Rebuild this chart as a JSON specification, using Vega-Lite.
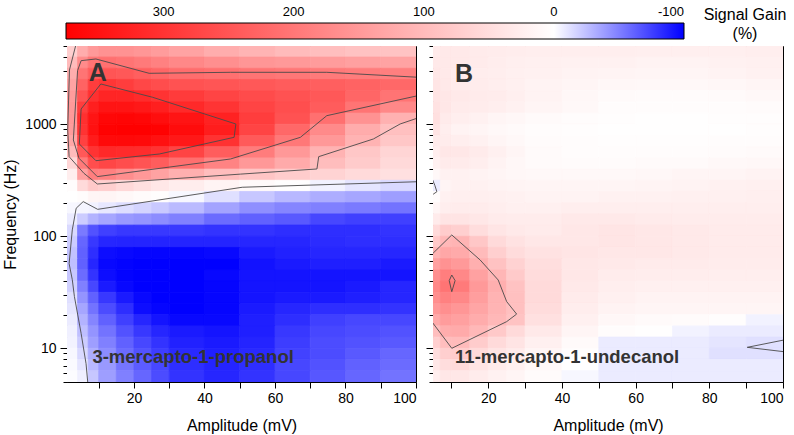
{
"$schema": "https://vega.github.io/schema/vega-lite/v6.json",
"autosize": {"type": "none"},
"padding": {"left": 67, "top": 46, "right": 727, "bottom": 389},
"background": "white",
"bounds": "flush",
"spacing": 17,
"config": {
  "font": "Liberation Sans",
  "view": {"stroke": "black", "strokeWidth": 1},
  "axis": {"labelFont": "Liberation Sans", "titleFont": "Liberation Sans", "labelFontSize": 14, "titleFontSize": 16, "titleFontWeight": "normal", "labelColor": "black", "titleColor": "black", "domainColor": "black", "tickColor": "black", "grid": false, "labelOverlap": false},
  "legend": {"labelFont": "Liberation Sans", "titleFont": "Liberation Sans", "labelFontSize": 13, "titleFontSize": 16, "titleFontWeight": "normal", "titleColor": "black", "labelColor": "black", "titleLineHeight": 19, "titleLimit": 300}
},
"datasets": {
  "cols": [{"c":0,"x":1,"x2":4},{"c":1,"x":4,"x2":7},{"c":2,"x":7,"x2":10},{"c":3,"x":10,"x2":15},{"c":4,"x":15,"x2":20},{"c":5,"x":20,"x2":25},{"c":6,"x":25,"x2":30},{"c":7,"x":30,"x2":40},{"c":8,"x":40,"x2":50},{"c":9,"x":50,"x2":60},{"c":10,"x":60,"x2":70},{"c":11,"x":70,"x2":80},{"c":12,"x":80,"x2":90},{"c":13,"x":90,"x2":100}],
  "rows": [{"r":0,"y":5,"y2":6.31},{"r":1,"y":6.31,"y2":7.943},{"r":2,"y":7.943,"y2":10},{"r":3,"y":10,"y2":12.59},{"r":4,"y":12.59,"y2":15.85},{"r":5,"y":15.85,"y2":19.95},{"r":6,"y":19.95,"y2":25.12},{"r":7,"y":25.12,"y2":31.62},{"r":8,"y":31.62,"y2":39.81},{"r":9,"y":39.81,"y2":50.12},{"r":10,"y":50.12,"y2":63.1},{"r":11,"y":63.1,"y2":79.43},{"r":12,"y":79.43,"y2":100},{"r":13,"y":100,"y2":125.9},{"r":14,"y":125.9,"y2":158.5},{"r":15,"y":158.5,"y2":199.5},{"r":16,"y":199.5,"y2":251.2},{"r":17,"y":251.2,"y2":316.2},{"r":18,"y":316.2,"y2":398.1},{"r":19,"y":398.1,"y2":501.2},{"r":20,"y":501.2,"y2":631},{"r":21,"y":631,"y2":794.3},{"r":22,"y":794.3,"y2":1000},{"r":23,"y":1000,"y2":1259},{"r":24,"y":1259,"y2":1585},{"r":25,"y":1585,"y2":1995},{"r":26,"y":1995,"y2":2512},{"r":27,"y":2512,"y2":3162},{"r":28,"y":3162,"y2":3981},{"r":29,"y":3981,"y2":5000}],
  "notes": [{"p":"A","t":"A","x":7.2,"y":2449},{"p":"B","t":"B","x":11.0,"y":2400}],
  "names": [{"p":"A","t":"3-mercapto-1-propanol","x":8.2,"y":7.35},{"p":"B","t":"11-mercapto-1-undecanol","x":11.0,"y":7.35}],
  "cellsA": [
{"c":0,"r":29,"v":70},{"c":1,"r":29,"v":120},{"c":2,"r":29,"v":150},{"c":3,"r":29,"v":160},{"c":4,"r":29,"v":160},{"c":5,"r":29,"v":155},{"c":6,"r":29,"v":145},{"c":7,"r":29,"v":135},{"c":8,"r":29,"v":120},{"c":9,"r":29,"v":110},{"c":10,"r":29,"v":100},{"c":11,"r":29,"v":95},{"c":12,"r":29,"v":90},{"c":13,"r":29,"v":88},
{"c":0,"r":28,"v":100},{"c":1,"r":28,"v":170},{"c":2,"r":28,"v":205},{"c":3,"r":28,"v":210},{"c":4,"r":28,"v":205},{"c":5,"r":28,"v":195},{"c":6,"r":28,"v":185},{"c":7,"r":28,"v":175},{"c":8,"r":28,"v":165},{"c":9,"r":28,"v":155},{"c":10,"r":28,"v":150},{"c":11,"r":28,"v":145},{"c":12,"r":28,"v":140},{"c":13,"r":28,"v":135},
{"c":0,"r":27,"v":120},{"c":1,"r":27,"v":205},{"c":2,"r":27,"v":240},{"c":3,"r":27,"v":250},{"c":4,"r":27,"v":245},{"c":5,"r":27,"v":235},{"c":6,"r":27,"v":225},{"c":7,"r":27,"v":215},{"c":8,"r":27,"v":210},{"c":9,"r":27,"v":205},{"c":10,"r":27,"v":200},{"c":11,"r":27,"v":196},{"c":12,"r":27,"v":192},{"c":13,"r":27,"v":188},
{"c":0,"r":26,"v":135},{"c":1,"r":26,"v":230},{"c":2,"r":26,"v":285},{"c":3,"r":26,"v":295},{"c":4,"r":26,"v":285},{"c":5,"r":26,"v":270},{"c":6,"r":26,"v":262},{"c":7,"r":26,"v":255},{"c":8,"r":26,"v":250},{"c":9,"r":26,"v":245},{"c":10,"r":26,"v":240},{"c":11,"r":26,"v":235},{"c":12,"r":26,"v":230},{"c":13,"r":26,"v":222},
{"c":0,"r":25,"v":145},{"c":1,"r":25,"v":255},{"c":2,"r":25,"v":305},{"c":3,"r":25,"v":320},{"c":4,"r":25,"v":320},{"c":5,"r":25,"v":312},{"c":6,"r":25,"v":300},{"c":7,"r":25,"v":288},{"c":8,"r":25,"v":275},{"c":9,"r":25,"v":265},{"c":10,"r":25,"v":255},{"c":11,"r":25,"v":245},{"c":12,"r":25,"v":225},{"c":13,"r":25,"v":205},
{"c":0,"r":24,"v":150},{"c":1,"r":24,"v":285},{"c":2,"r":24,"v":330},{"c":3,"r":24,"v":345},{"c":4,"r":24,"v":345},{"c":5,"r":24,"v":340},{"c":6,"r":24,"v":330},{"c":7,"r":24,"v":315},{"c":8,"r":24,"v":298},{"c":9,"r":24,"v":275},{"c":10,"r":24,"v":260},{"c":11,"r":24,"v":240},{"c":12,"r":24,"v":205},{"c":13,"r":24,"v":175},
{"c":0,"r":23,"v":150},{"c":1,"r":23,"v":305},{"c":2,"r":23,"v":345},{"c":3,"r":23,"v":365},{"c":4,"r":23,"v":368},{"c":5,"r":23,"v":365},{"c":6,"r":23,"v":355},{"c":7,"r":23,"v":345},{"c":8,"r":23,"v":325},{"c":9,"r":23,"v":285},{"c":10,"r":23,"v":255},{"c":11,"r":23,"v":210},{"c":12,"r":23,"v":160},{"c":13,"r":23,"v":115},
{"c":0,"r":22,"v":145},{"c":1,"r":22,"v":300},{"c":2,"r":22,"v":350},{"c":3,"r":22,"v":372},{"c":4,"r":22,"v":375},{"c":5,"r":22,"v":375},{"c":6,"r":22,"v":372},{"c":7,"r":22,"v":358},{"c":8,"r":22,"v":332},{"c":9,"r":22,"v":275},{"c":10,"r":22,"v":222},{"c":11,"r":22,"v":172},{"c":12,"r":22,"v":122},{"c":13,"r":22,"v":92},
{"c":0,"r":21,"v":130},{"c":1,"r":21,"v":280},{"c":2,"r":21,"v":335},{"c":3,"r":21,"v":360},{"c":4,"r":21,"v":362},{"c":5,"r":21,"v":360},{"c":6,"r":21,"v":350},{"c":7,"r":21,"v":340},{"c":8,"r":21,"v":302},{"c":9,"r":21,"v":242},{"c":10,"r":21,"v":198},{"c":11,"r":21,"v":152},{"c":12,"r":21,"v":112},{"c":13,"r":21,"v":82},
{"c":0,"r":20,"v":100},{"c":1,"r":20,"v":245},{"c":2,"r":20,"v":300},{"c":3,"r":20,"v":315},{"c":4,"r":20,"v":312},{"c":5,"r":20,"v":310},{"c":6,"r":20,"v":300},{"c":7,"r":20,"v":275},{"c":8,"r":20,"v":238},{"c":9,"r":20,"v":192},{"c":10,"r":20,"v":152},{"c":11,"r":20,"v":112},{"c":12,"r":20,"v":82},{"c":13,"r":20,"v":62},
{"c":0,"r":19,"v":60},{"c":1,"r":19,"v":195},{"c":2,"r":19,"v":260},{"c":3,"r":19,"v":272},{"c":4,"r":19,"v":262},{"c":5,"r":19,"v":252},{"c":6,"r":19,"v":238},{"c":7,"r":19,"v":212},{"c":8,"r":19,"v":182},{"c":9,"r":19,"v":152},{"c":10,"r":19,"v":125},{"c":11,"r":19,"v":97},{"c":12,"r":19,"v":76},{"c":13,"r":19,"v":56},
{"c":0,"r":18,"v":25},{"c":1,"r":18,"v":140},{"c":2,"r":18,"v":190},{"c":3,"r":18,"v":185},{"c":4,"r":18,"v":168},{"c":5,"r":18,"v":152},{"c":6,"r":18,"v":137},{"c":7,"r":18,"v":117},{"c":8,"r":18,"v":97},{"c":9,"r":18,"v":85},{"c":10,"r":18,"v":75},{"c":11,"r":18,"v":65},{"c":12,"r":18,"v":55},{"c":13,"r":18,"v":45},
{"c":0,"r":17,"v":5},{"c":1,"r":17,"v":55},{"c":2,"r":17,"v":80},{"c":3,"r":17,"v":70},{"c":4,"r":17,"v":56},{"c":5,"r":17,"v":46},{"c":6,"r":17,"v":36},{"c":7,"r":17,"v":26},{"c":8,"r":17,"v":16},{"c":9,"r":17,"v":8},{"c":10,"r":17,"v":2},{"c":11,"r":17,"v":-5},{"c":12,"r":17,"v":-10},{"c":13,"r":17,"v":-15},
{"c":0,"r":16,"v":0},{"c":1,"r":16,"v":5},{"c":2,"r":16,"v":14},{"c":3,"r":16,"v":14},{"c":4,"r":16,"v":10},{"c":5,"r":16,"v":6},{"c":6,"r":16,"v":3},{"c":7,"r":16,"v":-3},{"c":8,"r":16,"v":-12},{"c":9,"r":16,"v":-22},{"c":10,"r":16,"v":-28},{"c":11,"r":16,"v":-32},{"c":12,"r":16,"v":-35},{"c":13,"r":16,"v":-38},
{"c":0,"r":15,"v":-3},{"c":1,"r":15,"v":-4},{"c":2,"r":15,"v":-5},{"c":3,"r":15,"v":-9},{"c":4,"r":15,"v":-13},{"c":5,"r":15,"v":-17},{"c":6,"r":15,"v":-21},{"c":7,"r":15,"v":-27},{"c":8,"r":15,"v":-36},{"c":9,"r":15,"v":-44},{"c":10,"r":15,"v":-48},{"c":11,"r":15,"v":-50},{"c":12,"r":15,"v":-52},{"c":13,"r":15,"v":-55},
{"c":0,"r":14,"v":-8},{"c":1,"r":14,"v":-20},{"c":2,"r":14,"v":-30},{"c":3,"r":14,"v":-35},{"c":4,"r":14,"v":-40},{"c":5,"r":14,"v":-42},{"c":6,"r":14,"v":-45},{"c":7,"r":14,"v":-50},{"c":8,"r":14,"v":-58},{"c":9,"r":14,"v":-62},{"c":10,"r":14,"v":-65},{"c":11,"r":14,"v":-72},{"c":12,"r":14,"v":-75},{"c":13,"r":14,"v":-75},
{"c":0,"r":13,"v":-15},{"c":1,"r":13,"v":-52},{"c":2,"r":13,"v":-68},{"c":3,"r":13,"v":-75},{"c":4,"r":13,"v":-78},{"c":5,"r":13,"v":-78},{"c":6,"r":13,"v":-78},{"c":7,"r":13,"v":-78},{"c":8,"r":13,"v":-80},{"c":9,"r":13,"v":-80},{"c":10,"r":13,"v":-82},{"c":11,"r":13,"v":-82},{"c":12,"r":13,"v":-82},{"c":13,"r":13,"v":-80},
{"c":0,"r":12,"v":-20},{"c":1,"r":12,"v":-60},{"c":2,"r":12,"v":-78},{"c":3,"r":12,"v":-85},{"c":4,"r":12,"v":-86},{"c":5,"r":12,"v":-86},{"c":6,"r":12,"v":-86},{"c":7,"r":12,"v":-86},{"c":8,"r":12,"v":-86},{"c":9,"r":12,"v":-85},{"c":10,"r":12,"v":-85},{"c":11,"r":12,"v":-83},{"c":12,"r":12,"v":-82},{"c":13,"r":12,"v":-82},
{"c":0,"r":11,"v":-24},{"c":1,"r":11,"v":-62},{"c":2,"r":11,"v":-82},{"c":3,"r":11,"v":-95},{"c":4,"r":11,"v":-97},{"c":5,"r":11,"v":-98},{"c":6,"r":11,"v":-98},{"c":7,"r":11,"v":-98},{"c":8,"r":11,"v":-97},{"c":9,"r":11,"v":-90},{"c":10,"r":11,"v":-87},{"c":11,"r":11,"v":-85},{"c":12,"r":11,"v":-85},{"c":13,"r":11,"v":-85},
{"c":0,"r":10,"v":-25},{"c":1,"r":10,"v":-62},{"c":2,"r":10,"v":-85},{"c":3,"r":10,"v":-97},{"c":4,"r":10,"v":-99},{"c":5,"r":10,"v":-100},{"c":6,"r":10,"v":-100},{"c":7,"r":10,"v":-100},{"c":8,"r":10,"v":-100},{"c":9,"r":10,"v":-93},{"c":10,"r":10,"v":-90},{"c":11,"r":10,"v":-88},{"c":12,"r":10,"v":-88},{"c":13,"r":10,"v":-90},
{"c":0,"r":9,"v":-22},{"c":1,"r":9,"v":-58},{"c":2,"r":9,"v":-80},{"c":3,"r":9,"v":-95},{"c":4,"r":9,"v":-99},{"c":5,"r":9,"v":-100},{"c":6,"r":9,"v":-100},{"c":7,"r":9,"v":-100},{"c":8,"r":9,"v":-97},{"c":9,"r":9,"v":-92},{"c":10,"r":9,"v":-92},{"c":11,"r":9,"v":-92},{"c":12,"r":9,"v":-92},{"c":13,"r":9,"v":-92},
{"c":0,"r":8,"v":-18},{"c":1,"r":8,"v":-50},{"c":2,"r":8,"v":-72},{"c":3,"r":8,"v":-90},{"c":4,"r":8,"v":-97},{"c":5,"r":8,"v":-100},{"c":6,"r":8,"v":-100},{"c":7,"r":8,"v":-100},{"c":8,"r":8,"v":-98},{"c":9,"r":8,"v":-92},{"c":10,"r":8,"v":-92},{"c":11,"r":8,"v":-92},{"c":12,"r":8,"v":-90},{"c":13,"r":8,"v":-85},
{"c":0,"r":7,"v":-12},{"c":1,"r":7,"v":-42},{"c":2,"r":7,"v":-62},{"c":3,"r":7,"v":-78},{"c":4,"r":7,"v":-90},{"c":5,"r":7,"v":-97},{"c":6,"r":7,"v":-100},{"c":7,"r":7,"v":-100},{"c":8,"r":7,"v":-98},{"c":9,"r":7,"v":-92},{"c":10,"r":7,"v":-90},{"c":11,"r":7,"v":-90},{"c":12,"r":7,"v":-88},{"c":13,"r":7,"v":-85},
{"c":0,"r":6,"v":-10},{"c":1,"r":6,"v":-35},{"c":2,"r":6,"v":-55},{"c":3,"r":6,"v":-70},{"c":4,"r":6,"v":-82},{"c":5,"r":6,"v":-95},{"c":6,"r":6,"v":-98},{"c":7,"r":6,"v":-100},{"c":8,"r":6,"v":-98},{"c":9,"r":6,"v":-90},{"c":10,"r":6,"v":-85},{"c":11,"r":6,"v":-82},{"c":12,"r":6,"v":-82},{"c":13,"r":6,"v":-80},
{"c":0,"r":5,"v":-8},{"c":1,"r":5,"v":-30},{"c":2,"r":5,"v":-48},{"c":3,"r":5,"v":-62},{"c":4,"r":5,"v":-75},{"c":5,"r":5,"v":-85},{"c":6,"r":5,"v":-92},{"c":7,"r":5,"v":-97},{"c":8,"r":5,"v":-97},{"c":9,"r":5,"v":-88},{"c":10,"r":5,"v":-82},{"c":11,"r":5,"v":-75},{"c":12,"r":5,"v":-72},{"c":13,"r":5,"v":-72},
{"c":0,"r":4,"v":-6},{"c":1,"r":4,"v":-25},{"c":2,"r":4,"v":-42},{"c":3,"r":4,"v":-55},{"c":4,"r":4,"v":-68},{"c":5,"r":4,"v":-78},{"c":6,"r":4,"v":-85},{"c":7,"r":4,"v":-90},{"c":8,"r":4,"v":-92},{"c":9,"r":4,"v":-88},{"c":10,"r":4,"v":-78},{"c":11,"r":4,"v":-72},{"c":12,"r":4,"v":-70},{"c":13,"r":4,"v":-68},
{"c":0,"r":3,"v":-5},{"c":1,"r":3,"v":-20},{"c":2,"r":3,"v":-38},{"c":3,"r":3,"v":-50},{"c":4,"r":3,"v":-62},{"c":5,"r":3,"v":-72},{"c":6,"r":3,"v":-80},{"c":7,"r":3,"v":-87},{"c":8,"r":3,"v":-90},{"c":9,"r":3,"v":-86},{"c":10,"r":3,"v":-76},{"c":11,"r":3,"v":-70},{"c":12,"r":3,"v":-68},{"c":13,"r":3,"v":-65},
{"c":0,"r":2,"v":-3},{"c":1,"r":2,"v":-15},{"c":2,"r":2,"v":-32},{"c":3,"r":2,"v":-45},{"c":4,"r":2,"v":-58},{"c":5,"r":2,"v":-68},{"c":6,"r":2,"v":-76},{"c":7,"r":2,"v":-84},{"c":8,"r":2,"v":-88},{"c":9,"r":2,"v":-84},{"c":10,"r":2,"v":-74},{"c":11,"r":2,"v":-70},{"c":12,"r":2,"v":-65},{"c":13,"r":2,"v":-60},
{"c":0,"r":1,"v":-2},{"c":1,"r":1,"v":-10},{"c":2,"r":1,"v":-28},{"c":3,"r":1,"v":-40},{"c":4,"r":1,"v":-54},{"c":5,"r":1,"v":-64},{"c":6,"r":1,"v":-72},{"c":7,"r":1,"v":-82},{"c":8,"r":1,"v":-86},{"c":9,"r":1,"v":-82},{"c":10,"r":1,"v":-72},{"c":11,"r":1,"v":-68},{"c":12,"r":1,"v":-62},{"c":13,"r":1,"v":-58},
{"c":0,"r":0,"v":-1},{"c":1,"r":0,"v":-6},{"c":2,"r":0,"v":-22},{"c":3,"r":0,"v":-38},{"c":4,"r":0,"v":-50},{"c":5,"r":0,"v":-60},{"c":6,"r":0,"v":-70},{"c":7,"r":0,"v":-80},{"c":8,"r":0,"v":-85},{"c":9,"r":0,"v":-80},{"c":10,"r":0,"v":-72},{"c":11,"r":0,"v":-66},{"c":12,"r":0,"v":-60},{"c":13,"r":0,"v":-55}
  ],
  "cellsB": [
{"c":1,"r":29,"v":30},{"c":2,"r":29,"v":32},{"c":3,"r":29,"v":32},{"c":4,"r":29,"v":30},{"c":5,"r":29,"v":28},{"c":6,"r":29,"v":26},{"c":7,"r":29,"v":25},{"c":8,"r":29,"v":25},{"c":9,"r":29,"v":25},{"c":10,"r":29,"v":24},{"c":11,"r":29,"v":24},{"c":12,"r":29,"v":24},{"c":13,"r":29,"v":25},
{"c":1,"r":28,"v":32},{"c":2,"r":28,"v":33},{"c":3,"r":28,"v":32},{"c":4,"r":28,"v":30},{"c":5,"r":28,"v":27},{"c":6,"r":28,"v":24},{"c":7,"r":28,"v":22},{"c":8,"r":28,"v":20},{"c":9,"r":28,"v":20},{"c":10,"r":28,"v":18},{"c":11,"r":28,"v":18},{"c":12,"r":28,"v":20},{"c":13,"r":28,"v":22},
{"c":1,"r":27,"v":35},{"c":2,"r":27,"v":33},{"c":3,"r":27,"v":30},{"c":4,"r":27,"v":27},{"c":5,"r":27,"v":25},{"c":6,"r":27,"v":22},{"c":7,"r":27,"v":20},{"c":8,"r":27,"v":18},{"c":9,"r":27,"v":16},{"c":10,"r":27,"v":15},{"c":11,"r":27,"v":15},{"c":12,"r":27,"v":17},{"c":13,"r":27,"v":20},
{"c":1,"r":26,"v":38},{"c":2,"r":26,"v":33},{"c":3,"r":26,"v":30},{"c":4,"r":26,"v":28},{"c":5,"r":26,"v":25},{"c":6,"r":26,"v":22},{"c":7,"r":26,"v":18},{"c":8,"r":26,"v":15},{"c":9,"r":26,"v":12},{"c":10,"r":26,"v":10},{"c":11,"r":26,"v":10},{"c":12,"r":26,"v":12},{"c":13,"r":26,"v":15},
{"c":1,"r":25,"v":40},{"c":2,"r":25,"v":35},{"c":3,"r":25,"v":32},{"c":4,"r":25,"v":30},{"c":5,"r":25,"v":28},{"c":6,"r":25,"v":24},{"c":7,"r":25,"v":18},{"c":8,"r":25,"v":12},{"c":9,"r":25,"v":8},{"c":10,"r":25,"v":6},{"c":11,"r":25,"v":6},{"c":12,"r":25,"v":8},{"c":13,"r":25,"v":10},
{"c":1,"r":24,"v":42},{"c":2,"r":24,"v":35},{"c":3,"r":24,"v":30},{"c":4,"r":24,"v":28},{"c":5,"r":24,"v":25},{"c":6,"r":24,"v":20},{"c":7,"r":24,"v":15},{"c":8,"r":24,"v":10},{"c":9,"r":24,"v":5},{"c":10,"r":24,"v":4},{"c":11,"r":24,"v":4},{"c":12,"r":24,"v":5},{"c":13,"r":24,"v":6},
{"c":1,"r":23,"v":45},{"c":2,"r":23,"v":30},{"c":3,"r":23,"v":25},{"c":4,"r":23,"v":20},{"c":5,"r":23,"v":15},{"c":6,"r":23,"v":12},{"c":7,"r":23,"v":8},{"c":8,"r":23,"v":5},{"c":9,"r":23,"v":3},{"c":10,"r":23,"v":2},{"c":11,"r":23,"v":2},{"c":12,"r":23,"v":3},{"c":13,"r":23,"v":3},
{"c":1,"r":22,"v":40},{"c":2,"r":22,"v":25},{"c":3,"r":22,"v":18},{"c":4,"r":22,"v":14},{"c":5,"r":22,"v":10},{"c":6,"r":22,"v":8},{"c":7,"r":22,"v":5},{"c":8,"r":22,"v":3},{"c":9,"r":22,"v":2},{"c":10,"r":22,"v":2},{"c":11,"r":22,"v":2},{"c":12,"r":22,"v":2},{"c":13,"r":22,"v":3},
{"c":1,"r":21,"v":30},{"c":2,"r":21,"v":28},{"c":3,"r":21,"v":25},{"c":4,"r":21,"v":20},{"c":5,"r":21,"v":14},{"c":6,"r":21,"v":10},{"c":7,"r":21,"v":6},{"c":8,"r":21,"v":4},{"c":9,"r":21,"v":3},{"c":10,"r":21,"v":3},{"c":11,"r":21,"v":3},{"c":12,"r":21,"v":4},{"c":13,"r":21,"v":5},
{"c":1,"r":20,"v":25},{"c":2,"r":20,"v":35},{"c":3,"r":20,"v":35},{"c":4,"r":20,"v":30},{"c":5,"r":20,"v":22},{"c":6,"r":20,"v":14},{"c":7,"r":20,"v":8},{"c":8,"r":20,"v":5},{"c":9,"r":20,"v":4},{"c":10,"r":20,"v":4},{"c":11,"r":20,"v":5},{"c":12,"r":20,"v":6},{"c":13,"r":20,"v":8},
{"c":1,"r":19,"v":20},{"c":2,"r":19,"v":30},{"c":3,"r":19,"v":30},{"c":4,"r":19,"v":25},{"c":5,"r":19,"v":18},{"c":6,"r":19,"v":12},{"c":7,"r":19,"v":8},{"c":8,"r":19,"v":6},{"c":9,"r":19,"v":6},{"c":10,"r":19,"v":7},{"c":11,"r":19,"v":8},{"c":12,"r":19,"v":10},{"c":13,"r":19,"v":12},
{"c":1,"r":18,"v":10},{"c":2,"r":18,"v":20},{"c":3,"r":18,"v":20},{"c":4,"r":18,"v":18},{"c":5,"r":18,"v":15},{"c":6,"r":18,"v":12},{"c":7,"r":18,"v":10},{"c":8,"r":18,"v":10},{"c":9,"r":18,"v":10},{"c":10,"r":18,"v":12},{"c":11,"r":18,"v":14},{"c":12,"r":18,"v":15},{"c":13,"r":18,"v":18},
{"c":1,"r":17,"v":-8},{"c":2,"r":17,"v":15},{"c":3,"r":17,"v":20},{"c":4,"r":17,"v":20},{"c":5,"r":17,"v":18},{"c":6,"r":17,"v":16},{"c":7,"r":17,"v":15},{"c":8,"r":17,"v":15},{"c":9,"r":17,"v":15},{"c":10,"r":17,"v":16},{"c":11,"r":17,"v":18},{"c":12,"r":17,"v":20},{"c":13,"r":17,"v":22},
{"c":1,"r":16,"v":5},{"c":2,"r":16,"v":20},{"c":3,"r":16,"v":24},{"c":4,"r":16,"v":24},{"c":5,"r":16,"v":22},{"c":6,"r":16,"v":20},{"c":7,"r":16,"v":18},{"c":8,"r":16,"v":18},{"c":9,"r":16,"v":20},{"c":10,"r":16,"v":20},{"c":11,"r":16,"v":22},{"c":12,"r":16,"v":22},{"c":13,"r":16,"v":24},
{"c":1,"r":15,"v":15},{"c":2,"r":15,"v":25},{"c":3,"r":15,"v":28},{"c":4,"r":15,"v":28},{"c":5,"r":15,"v":25},{"c":6,"r":15,"v":22},{"c":7,"r":15,"v":22},{"c":8,"r":15,"v":25},{"c":9,"r":15,"v":25},{"c":10,"r":15,"v":25},{"c":11,"r":15,"v":25},{"c":12,"r":15,"v":25},{"c":13,"r":15,"v":25},
{"c":1,"r":14,"v":30},{"c":2,"r":14,"v":40},{"c":3,"r":14,"v":40},{"c":4,"r":14,"v":35},{"c":5,"r":14,"v":30},{"c":6,"r":14,"v":28},{"c":7,"r":14,"v":28},{"c":8,"r":14,"v":32},{"c":9,"r":14,"v":32},{"c":10,"r":14,"v":30},{"c":11,"r":14,"v":28},{"c":12,"r":14,"v":28},{"c":13,"r":14,"v":28},
{"c":1,"r":13,"v":55},{"c":2,"r":13,"v":75},{"c":3,"r":13,"v":70},{"c":4,"r":13,"v":50},{"c":5,"r":13,"v":38},{"c":6,"r":13,"v":32},{"c":7,"r":13,"v":30},{"c":8,"r":13,"v":35},{"c":9,"r":13,"v":38},{"c":10,"r":13,"v":35},{"c":11,"r":13,"v":32},{"c":12,"r":13,"v":30},{"c":13,"r":13,"v":30},
{"c":1,"r":12,"v":80},{"c":2,"r":12,"v":105},{"c":3,"r":12,"v":110},{"c":4,"r":12,"v":82},{"c":5,"r":12,"v":55},{"c":6,"r":12,"v":42},{"c":7,"r":12,"v":36},{"c":8,"r":12,"v":36},{"c":9,"r":12,"v":38},{"c":10,"r":12,"v":36},{"c":11,"r":12,"v":33},{"c":12,"r":12,"v":30},{"c":13,"r":12,"v":30},
{"c":1,"r":11,"v":110},{"c":2,"r":11,"v":130},{"c":3,"r":11,"v":125},{"c":4,"r":11,"v":100},{"c":5,"r":11,"v":70},{"c":6,"r":11,"v":52},{"c":7,"r":11,"v":42},{"c":8,"r":11,"v":38},{"c":9,"r":11,"v":35},{"c":10,"r":11,"v":35},{"c":11,"r":11,"v":32},{"c":12,"r":11,"v":30},{"c":13,"r":11,"v":30},
{"c":1,"r":10,"v":140},{"c":2,"r":10,"v":160},{"c":3,"r":10,"v":150},{"c":4,"r":10,"v":118},{"c":5,"r":10,"v":90},{"c":6,"r":10,"v":66},{"c":7,"r":10,"v":48},{"c":8,"r":10,"v":36},{"c":9,"r":10,"v":32},{"c":10,"r":10,"v":30},{"c":11,"r":10,"v":30},{"c":12,"r":10,"v":28},{"c":13,"r":10,"v":28},
{"c":1,"r":9,"v":165},{"c":2,"r":9,"v":190},{"c":3,"r":9,"v":175},{"c":4,"r":9,"v":138},{"c":5,"r":9,"v":108},{"c":6,"r":9,"v":78},{"c":7,"r":9,"v":52},{"c":8,"r":9,"v":35},{"c":9,"r":9,"v":28},{"c":10,"r":9,"v":26},{"c":11,"r":9,"v":26},{"c":12,"r":9,"v":25},{"c":13,"r":9,"v":25},
{"c":1,"r":8,"v":175},{"c":2,"r":8,"v":205},{"c":3,"r":8,"v":195},{"c":4,"r":8,"v":150},{"c":5,"r":8,"v":118},{"c":6,"r":8,"v":90},{"c":7,"r":8,"v":55},{"c":8,"r":8,"v":32},{"c":9,"r":8,"v":25},{"c":10,"r":8,"v":22},{"c":11,"r":8,"v":22},{"c":12,"r":8,"v":22},{"c":13,"r":8,"v":22},
{"c":1,"r":7,"v":165},{"c":2,"r":7,"v":185},{"c":3,"r":7,"v":175},{"c":4,"r":7,"v":142},{"c":5,"r":7,"v":112},{"c":6,"r":7,"v":92},{"c":7,"r":7,"v":55},{"c":8,"r":7,"v":30},{"c":9,"r":7,"v":22},{"c":10,"r":7,"v":18},{"c":11,"r":7,"v":18},{"c":12,"r":7,"v":18},{"c":13,"r":7,"v":18},
{"c":1,"r":6,"v":150},{"c":2,"r":6,"v":165},{"c":3,"r":6,"v":155},{"c":4,"r":6,"v":132},{"c":5,"r":6,"v":110},{"c":6,"r":6,"v":92},{"c":7,"r":6,"v":52},{"c":8,"r":6,"v":26},{"c":9,"r":6,"v":18},{"c":10,"r":6,"v":15},{"c":11,"r":6,"v":14},{"c":12,"r":6,"v":14},{"c":13,"r":6,"v":14},
{"c":1,"r":5,"v":125},{"c":2,"r":5,"v":145},{"c":3,"r":5,"v":140},{"c":4,"r":5,"v":122},{"c":5,"r":5,"v":104},{"c":6,"r":5,"v":88},{"c":7,"r":5,"v":45},{"c":8,"r":5,"v":22},{"c":9,"r":5,"v":12},{"c":10,"r":5,"v":8},{"c":11,"r":5,"v":6},{"c":12,"r":5,"v":3},{"c":13,"r":5,"v":-5},
{"c":1,"r":4,"v":95},{"c":2,"r":4,"v":120},{"c":3,"r":4,"v":125},{"c":4,"r":4,"v":105},{"c":5,"r":4,"v":80},{"c":6,"r":4,"v":55},{"c":7,"r":4,"v":32},{"c":8,"r":4,"v":14},{"c":9,"r":4,"v":5},{"c":10,"r":4,"v":2},{"c":11,"r":4,"v":-5},{"c":12,"r":4,"v":-8},{"c":13,"r":4,"v":-8},
{"c":1,"r":3,"v":70},{"c":2,"r":3,"v":95},{"c":3,"r":3,"v":100},{"c":4,"r":3,"v":75},{"c":5,"r":3,"v":55},{"c":6,"r":3,"v":40},{"c":7,"r":3,"v":22},{"c":8,"r":3,"v":8},{"c":9,"r":3,"v":-8},{"c":10,"r":3,"v":-8},{"c":11,"r":3,"v":-8},{"c":12,"r":3,"v":-10},{"c":13,"r":3,"v":-12},
{"c":1,"r":2,"v":50},{"c":2,"r":2,"v":70},{"c":3,"r":2,"v":75},{"c":4,"r":2,"v":55},{"c":5,"r":2,"v":40},{"c":6,"r":2,"v":30},{"c":7,"r":2,"v":15},{"c":8,"r":2,"v":3},{"c":9,"r":2,"v":-8},{"c":10,"r":2,"v":-8},{"c":11,"r":2,"v":-8},{"c":12,"r":2,"v":-12},{"c":13,"r":2,"v":-12},
{"c":1,"r":1,"v":35},{"c":2,"r":1,"v":50},{"c":3,"r":1,"v":55},{"c":4,"r":1,"v":40},{"c":5,"r":1,"v":30},{"c":6,"r":1,"v":22},{"c":7,"r":1,"v":10},{"c":8,"r":1,"v":0},{"c":9,"r":1,"v":-8},{"c":10,"r":1,"v":-8},{"c":11,"r":1,"v":-8},{"c":12,"r":1,"v":-8},{"c":13,"r":1,"v":-8},
{"c":1,"r":0,"v":25},{"c":2,"r":0,"v":35},{"c":3,"r":0,"v":35},{"c":4,"r":0,"v":28},{"c":5,"r":0,"v":20},{"c":6,"r":0,"v":15},{"c":7,"r":0,"v":6},{"c":8,"r":0,"v":-3},{"c":9,"r":0,"v":-8},{"c":10,"r":0,"v":-8},{"c":11,"r":0,"v":-8},{"c":12,"r":0,"v":-8},{"c":13,"r":0,"v":-8}
  ],
  "lines": [
{"p":"A","k":"a300","i":0,"x":10.6,"y":2290},{"p":"A","k":"a300","i":1,"x":25.3,"y":1742},{"p":"A","k":"a300","i":2,"x":48.9,"y":1006},{"p":"A","k":"a300","i":3,"x":48.4,"y":765},{"p":"A","k":"a300","i":4,"x":27.2,"y":543},{"p":"A","k":"a300","i":5,"x":9.2,"y":473},{"p":"A","k":"a300","i":6,"x":4.5,"y":667},{"p":"A","k":"a300","i":7,"x":5.0,"y":1370},{"p":"A","k":"a300","i":8,"x":10.6,"y":2290},
{"p":"A","k":"a200","i":0,"x":100.5,"y":2630},{"p":"A","k":"a200","i":1,"x":74.7,"y":2911},{"p":"A","k":"a200","i":2,"x":47.4,"y":2911},{"p":"A","k":"a200","i":3,"x":24.3,"y":2852},{"p":"A","k":"a200","i":4,"x":9.2,"y":3829},{"p":"A","k":"a200","i":5,"x":5.0,"y":3699},{"p":"A","k":"a200","i":6,"x":4.0,"y":3013},{"p":"A","k":"a200","i":7,"x":2.8,"y":724},{"p":"A","k":"a200","i":8,"x":4.4,"y":497},{"p":"A","k":"a200","i":9,"x":9.6,"y":341},{"p":"A","k":"a200","i":10,"x":47.4,"y":490},{"p":"A","k":"a200","i":11,"x":67.2,"y":765},{"p":"A","k":"a200","i":12,"x":74.7,"y":1194},{"p":"A","k":"a200","i":13,"x":100.5,"y":1800},
{"p":"A","k":"a100","i":0,"x":3.5,"y":5100},{"p":"A","k":"a100","i":1,"x":1.7,"y":3054},{"p":"A","k":"a100","i":2,"x":1.2,"y":890},{"p":"A","k":"a100","i":3,"x":1.6,"y":514},{"p":"A","k":"a100","i":4,"x":5.8,"y":365},{"p":"A","k":"a100","i":5,"x":9.6,"y":293},{"p":"A","k":"a100","i":6,"x":50.2,"y":359},{"p":"A","k":"a100","i":7,"x":71.9,"y":399},{"p":"A","k":"a100","i":8,"x":72.4,"y":514},{"p":"A","k":"a100","i":9,"x":87.9,"y":739},{"p":"A","k":"a100","i":10,"x":95.5,"y":1006},{"p":"A","k":"a100","i":11,"x":100.5,"y":1138},
{"p":"A","k":"a0","i":0,"x":100.5,"y":307},{"p":"A","k":"a0","i":1,"x":50.7,"y":274},{"p":"A","k":"a0","i":2,"x":9.7,"y":174},{"p":"A","k":"a0","i":3,"x":5.6,"y":204},{"p":"A","k":"a0","i":4,"x":3.6,"y":178},{"p":"A","k":"a0","i":5,"x":2.5,"y":114},{"p":"A","k":"a0","i":6,"x":1.6,"y":57},{"p":"A","k":"a0","i":7,"x":2.5,"y":41},{"p":"A","k":"a0","i":8,"x":3.1,"y":29},{"p":"A","k":"a0","i":9,"x":5.0,"y":13.6},{"p":"A","k":"a0","i":10,"x":6.4,"y":7.3},{"p":"A","k":"a0","i":11,"x":6.9,"y":4.9},
{"p":"B","k":"b100","i":0,"x":4.9,"y":70},{"p":"B","k":"b100","i":1,"x":10.1,"y":102.8},{"p":"B","k":"b100","i":2,"x":17.8,"y":61.4},{"p":"B","k":"b100","i":3,"x":22.7,"y":40.7},{"p":"B","k":"b100","i":4,"x":25,"y":26.1},{"p":"B","k":"b100","i":5,"x":27.7,"y":20.2},{"p":"B","k":"b100","i":6,"x":25,"y":17.3},{"p":"B","k":"b100","i":7,"x":10.1,"y":10},{"p":"B","k":"b100","i":8,"x":4.9,"y":16.9},
{"p":"B","k":"b200","i":0,"x":9.4,"y":40.2},{"p":"B","k":"b200","i":1,"x":10.1,"y":45.1},{"p":"B","k":"b200","i":2,"x":11.0,"y":40.2},{"p":"B","k":"b200","i":3,"x":10.1,"y":32},{"p":"B","k":"b200","i":4,"x":9.4,"y":40.2},
{"p":"B","k":"bneg","i":0,"x":4.9,"y":318},{"p":"B","k":"bneg","i":1,"x":5.5,"y":285},{"p":"B","k":"bneg","i":2,"x":6.05,"y":250},{"p":"B","k":"bneg","i":3,"x":5.1,"y":238},{"p":"B","k":"bneg","i":4,"x":4.9,"y":237},
{"p":"B","k":"btri","i":0,"x":100.5,"y":11.9},{"p":"B","k":"btri","i":1,"x":90.3,"y":10.2},{"p":"B","k":"btri","i":2,"x":100.5,"y":9.3}
  ]
},
"resolve": {"scale": {"color": "shared", "x": "independent", "y": "independent"}},
"hconcat": [
  {
    "width": 349, "height": 336,
    "resolve": {"axis": {"x": "independent"}},
    "layer": [
      {
        "data": {"name": "cellsA"},
        "transform": [
          {"lookup": "c", "from": {"data": {"name": "cols"}, "key": "c", "fields": ["x", "x2"]}},
          {"lookup": "r", "from": {"data": {"name": "rows"}, "key": "r", "fields": ["y", "y2"]}}
        ],
        "mark": {"type": "rect", "clip": true, "strokeWidth": 0.8, "stroke": {"expr": "scale('color', datum.v)"}},
        "encoding": {
          "x": {"field": "x", "type": "quantitative", "title": "Amplitude (mV)", "scale": {"domain": [1, 100], "nice": false, "zero": false},
                "axis": {"orient": "bottom", "values": [20,40,60,80,100], "format": "d", "tickSize": 6, "labelPadding": 3, "titlePadding": 12, "labelOverlap": false}},
          "x2": {"field": "x2"},
          "y": {"field": "y", "type": "quantitative", "title": "Frequency (Hz)", "scale": {"type": "log", "domain": [5, 5000], "nice": false},
                "axis": {"values": [5,6,7,8,9,10,20,30,40,50,60,70,80,90,100,200,300,400,500,600,700,800,900,1000,2000,3000,4000,5000], "format": "d",
                         "labelExpr": "(datum.value == 10 || datum.value == 100 || datum.value == 1000) ? datum.label : ''",
                         "tickSize": {"condition": {"test": "datum.value == 10 || datum.value == 100 || datum.value == 1000", "value": 7}, "value": 4},
                         "labelPadding": 4, "titlePadding": 6}},
          "y2": {"field": "y2"},
          "color": {"field": "v", "type": "quantitative",
                    "scale": {"type": "linear", "domain": [375, 0, -100], "range": ["#ff0000", "#ffffff", "#0000ff"], "interpolate": "rgb", "clamp": true},
                    "legend": {"type": "gradient", "orient": "none", "legendX": -1, "legendY": -23, "direction": "horizontal", "padding": 0,
                               "gradientLength": 618, "gradientThickness": 16, "gradientStrokeColor": "black", "gradientStrokeWidth": 1,
                               "values": [300, 200, 100, 0, -100], "labelExpr": "'' + datum.value", "labelOffset": -33, "labelFontSize": 13, "labelColor": "black", "labelOverlap": false,
                               "title": ["Signal Gain", "(%)"], "titleOrient": "right", "titleAnchor": "start", "titleBaseline": "bottom", "titleAlign": "center", "titleFontSize": 16, "titleFontWeight": "normal", "titleColor": "black", "titleLineHeight": 19, "titlePadding": 60}}
        }
      },
      {
        "data": {"name": "lines"},
        "transform": [{"filter": "datum.p == 'A'"}],
        "mark": {"type": "line", "clip": true, "color": "#4a4a4a", "strokeWidth": 0.9},
        "encoding": {
          "x": {"field": "x", "type": "quantitative", "axis": {"orient": "bottom", "values": [10,30,50,70,90], "labels": false, "title": null, "tickSize": 6, "domain": false}},
          "y": {"field": "y", "type": "quantitative", "title": "Frequency (Hz)"},
          "detail": {"field": "k"},
          "order": {"field": "i"}
        }
      },
      {
        "data": {"name": "notes"},
        "transform": [{"filter": "datum.p == 'A'"}],
        "mark": {"type": "text", "align": "left", "baseline": "alphabetic", "fontSize": 25, "fontWeight": "bold", "color": "#333333", "font": "Liberation Sans"},
        "encoding": {"x": {"field": "x", "type": "quantitative", "axis": null}, "y": {"field": "y", "type": "quantitative", "title": "Frequency (Hz)"}, "text": {"field": "t"}}
      },
      {
        "data": {"name": "names"},
        "transform": [{"filter": "datum.p == 'A'"}],
        "mark": {"type": "text", "align": "left", "baseline": "alphabetic", "fontSize": 18.5, "fontWeight": "bold", "color": "#333333", "font": "Liberation Sans"},
        "encoding": {"x": {"field": "x", "type": "quantitative", "axis": null}, "y": {"field": "y", "type": "quantitative", "title": "Frequency (Hz)"}, "text": {"field": "t"}}
      }
    ]
  },
  {
    "width": 350, "height": 336,
    "resolve": {"axis": {"x": "independent"}},
    "layer": [
      {
        "data": {"name": "cellsB"},
        "transform": [
          {"lookup": "c", "from": {"data": {"name": "cols"}, "key": "c", "fields": ["x", "x2"]}},
          {"lookup": "r", "from": {"data": {"name": "rows"}, "key": "r", "fields": ["y", "y2"]}}
        ],
        "mark": {"type": "rect", "clip": true, "strokeWidth": 0.8, "stroke": {"expr": "scale('color', datum.v)"}},
        "encoding": {
          "x": {"field": "x", "type": "quantitative", "title": "Amplitude (mV)", "scale": {"domain": [5, 100], "nice": false, "zero": false},
                "axis": {"orient": "bottom", "values": [20,40,60,80,100], "format": "d", "tickSize": 6, "labelPadding": 3, "titlePadding": 12, "labelOverlap": false}},
          "x2": {"field": "x2"},
          "y": {"field": "y", "type": "quantitative", "title": null, "scale": {"type": "log", "domain": [5, 5000], "nice": false},
                "axis": {"values": [5,6,7,8,9,10,20,30,40,50,60,70,80,90,100,200,300,400,500,600,700,800,900,1000,2000,3000,4000,5000], "labels": false, "title": null,
                         "tickSize": {"condition": {"test": "datum.value == 10 || datum.value == 100 || datum.value == 1000", "value": 7}, "value": 4}}},
          "y2": {"field": "y2"},
          "color": {"field": "v", "type": "quantitative",
                    "scale": {"type": "linear", "domain": [375, 0, -100], "range": ["#ff0000", "#ffffff", "#0000ff"], "interpolate": "rgb", "clamp": true},
                    "legend": {"type": "gradient", "orient": "none", "legendX": -1, "legendY": -23, "direction": "horizontal", "padding": 0,
                               "gradientLength": 618, "gradientThickness": 16, "gradientStrokeColor": "black", "gradientStrokeWidth": 1,
                               "values": [300, 200, 100, 0, -100], "labelExpr": "'' + datum.value", "labelOffset": -33, "labelFontSize": 13, "labelColor": "black", "labelOverlap": false,
                               "title": ["Signal Gain", "(%)"], "titleOrient": "right", "titleAnchor": "start", "titleBaseline": "bottom", "titleAlign": "center", "titleFontSize": 16, "titleFontWeight": "normal", "titleColor": "black", "titleLineHeight": 19, "titlePadding": 60}}
        }
      },
      {
        "data": {"name": "lines"},
        "transform": [{"filter": "datum.p == 'B'"}],
        "mark": {"type": "line", "clip": true, "color": "#4a4a4a", "strokeWidth": 0.9},
        "encoding": {
          "x": {"field": "x", "type": "quantitative", "axis": {"orient": "bottom", "values": [10,30,50,70,90], "labels": false, "title": null, "tickSize": 6, "domain": false}},
          "y": {"field": "y", "type": "quantitative", "title": null},
          "detail": {"field": "k"},
          "order": {"field": "i"}
        }
      },
      {
        "data": {"name": "notes"},
        "transform": [{"filter": "datum.p == 'B'"}],
        "mark": {"type": "text", "align": "left", "baseline": "alphabetic", "fontSize": 25, "fontWeight": "bold", "color": "#333333", "font": "Liberation Sans"},
        "encoding": {"x": {"field": "x", "type": "quantitative", "axis": null}, "y": {"field": "y", "type": "quantitative", "title": null}, "text": {"field": "t"}}
      },
      {
        "data": {"name": "names"},
        "transform": [{"filter": "datum.p == 'B'"}],
        "mark": {"type": "text", "align": "left", "baseline": "alphabetic", "fontSize": 18.5, "fontWeight": "bold", "color": "#333333", "font": "Liberation Sans"},
        "encoding": {"x": {"field": "x", "type": "quantitative", "axis": null}, "y": {"field": "y", "type": "quantitative", "title": null}, "text": {"field": "t"}}
      }
    ]
  }
]
}
